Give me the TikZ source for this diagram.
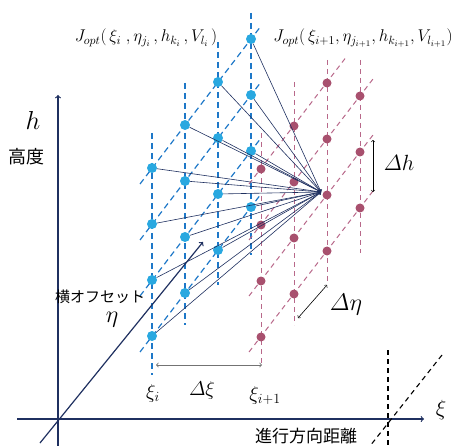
\documentclass[tikz,border=0pt]{standalone}
\usepackage{fix-cm}
\usepackage{amsmath}
\usepackage{fontspec}
\newfontfamily\jpfont{Noto Sans CJK JP}
\usetikzlibrary{arrows, positioning, calc}

\definecolor{gridblue}{HTML}{1E78C8}
\definecolor{dotblue}{HTML}{29A8E0}
\definecolor{gridred}{HTML}{B8688A}
\definecolor{dotred}{HTML}{A8506E}
\definecolor{navy}{HTML}{1F3060}

\begin{document}
\begin{tikzpicture}[x=1pt, y=-1pt]

\tikzstyle{bluedot}=[circle,fill=dotblue,inner sep=0pt,minimum size=10pt]
\tikzstyle{reddot}=[circle,fill=dotred,inner sep=0pt,minimum size=9pt]
\tikzstyle{blueline}=[draw=gridblue,dash pattern=on 6pt off 4pt,line width=1.2pt]
\tikzstyle{redline}=[draw=gridred,dash pattern=on 5pt off 4pt,line width=1pt]
\tikzstyle{conn}=[draw=navy,line width=0.6pt,->]
\tikzstyle{axis}=[draw=navy,line width=1.2pt,->]
\tikzstyle{guide}=[draw=black,dash pattern=on 5pt off 4pt,line width=1.1pt]
\tikzstyle{lbl}=[inner sep=0pt]

\useasboundingbox (0,0) rectangle (452,446);

% Grid lines
\foreach \c/\ya/\yb in {0/133/375,1/83/325,2/42/285,3/13/255}
  \draw[blueline] ({152+33*\c},\ya) -- ({152+33*\c},\yb);
\foreach \k in {0,...,3}
  \draw[blueline] (140,{352-56*\k}) -- (261,{194-56*\k});

\foreach \c/\ya/\yb in {0/133/365,1/82/325,2/60/283,3/60/253}
  \draw[redline] ({261+33*\c},\ya) -- ({261+33*\c},\yb);
\foreach \k in {0,...,2}
  \draw[redline] (249,{352-56*\k}) -- (373,{191-56*\k});
\draw[redline] (249,184) -- (347,56);

% Grid points
\foreach \c in {0,...,3}
  \foreach \k in {0,...,3}
    \node (b\c\k) [bluedot] at ({152+33*\c},{336-43*\c-56*\k}) {};

\foreach \c/\kmax in {0/3,1/3,2/3,3/2}
  \foreach \k in {0,...,\kmax}
    \node (r\c\k) [reddot] at ({261+33*\c},{337-43*\c-56*\k}) {};

\coordinate (goal) at ($(r21)+(-6,-3)$);

% Connections
\foreach \c in {0,...,3}
  \foreach \k in {0,...,3}
    \draw[conn] (b\c\k) -- (goal);

% Axes
\coordinate (hbot) at (58,446);
\coordinate (htop) at (58,95);
\coordinate (xileft) at (17,419);
\coordinate (xiright) at (424,419);
\coordinate (etabot) at (40,443);
\coordinate (etatop) at (203,242);
\draw[axis] (hbot) -- (htop);
\draw[axis] (xileft) -- (xiright);
\draw[axis] (etabot) -- (etatop);

\draw[guide] (388,350) -- (388,446);
\draw[guide] (442,355) -- (370,446);

% Spacing arrows
\draw[<->, draw=black!55, line width=0.8pt] (156,365) -- (262,365);
\draw[<->, line width=0.6pt] (373,140) -- (373,192);
\draw[<->, line width=0.6pt] (298,318) -- (327,285);

% Labels
\node (jleft) [lbl] at (146,38) {\fontsize{17}{20}\selectfont $J_{opt}(\,\xi_i\;,\eta_{j_i}\,,h_{k_i}\,,V_{l_i}\,)$};
\node (jright) [lbl] at (363,38) {\fontsize{17}{20}\selectfont $J_{opt}(\,\xi_{i+1},\eta_{j_{i+1}},h_{k_{i+1}},V_{l_{i+1}})$};
\node (hname) [lbl] at (33,120) {\fontsize{26}{30}\selectfont $h$};
\node (height) [lbl] at (27,157) {\jpfont\fontsize{18}{20}\selectfont 高度};
\node (offset) [lbl] at (100,297) {\jpfont\fontsize{15}{17}\selectfont 横オフセット};
\node (etaname) [lbl] at (112,320) {\fontsize{24}{28}\selectfont $\eta$};
\node (xiname) [lbl] at (441,410) {\fontsize{22}{26}\selectfont $\xi$};
\node (dist) [lbl] at (306,436) {\jpfont\fontsize{17}{19}\selectfont 進行方向距離};
\node (xii) [lbl] at (153,393) {\fontsize{20}{24}\selectfont $\xi_i$};
\node (dxi) [lbl] at (202,390) {\fontsize{20}{24}\selectfont $\varDelta\xi$};
\node (xiip) [lbl] at (265,396) {\fontsize{20}{24}\selectfont $\xi_{i+1}$};
\node (dh) [lbl] at (399,163) {\fontsize{22}{26}\selectfont $\varDelta h$};
\node (deta) [lbl] at (346,305) {\fontsize{24}{28}\selectfont $\varDelta\eta$};

\end{tikzpicture}
\end{document}
